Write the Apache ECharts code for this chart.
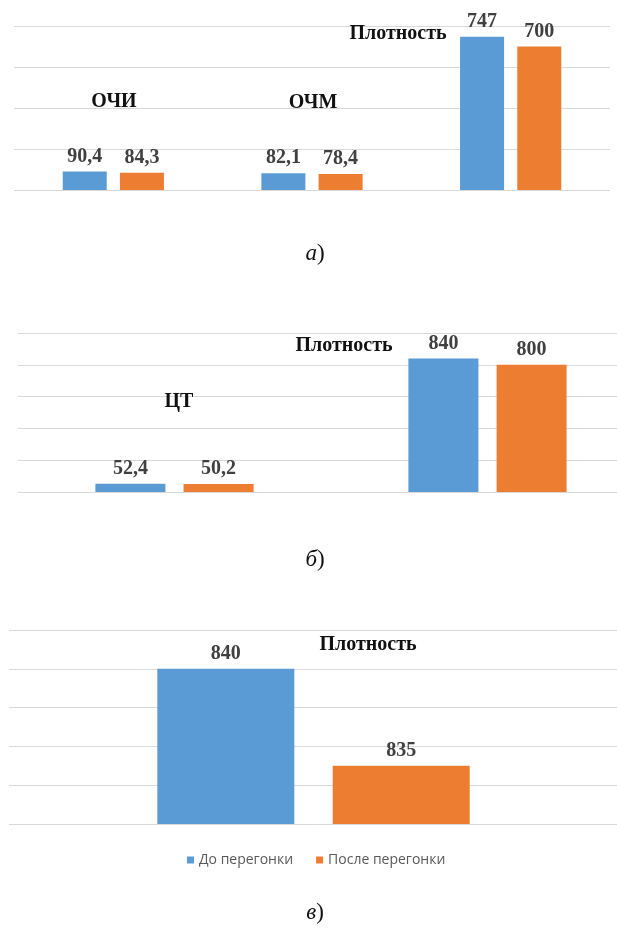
<!DOCTYPE html>
<html>
<head>
<meta charset="utf-8">
<script src="https://cdn.jsdelivr.net/npm/echarts@6/dist/echarts.min.js"></script>
<style>
  html, body { margin: 0; padding: 0; background: #fff; overflow: hidden; }
  #main { width: 660px; height: 937px; }
</style>
</head>
<body>
<div id="main"></div>
<script>
var chartDom = document.getElementById('main');
var myChart = echarts.init(chartDom);
var option;

// series names (legend)
let seriesNames = ['До перегонки', 'После перегонки'];

// panel a
let catsA = ['ОЧИ', 'ОЧМ', 'Плотность'];
let beforeA = [90.4, 82.1, 747];
let afterA = [84.3, 78.4, 700];

// panel b
let catsB = ['ЦТ', 'Плотность'];
let beforeB = [52.4, 840];
let afterB = [50.2, 800];

// panel c
let catsC = ['Плотность'];
let beforeC = [840];
let afterC = [835];

let captions = ['а', 'б', 'в'];

const blue = '#5B9BD5';
const orange = '#ED7D31';
const gridColor = '#d9d9d9';
const serif = '"Liberation Serif", "Times New Roman", serif';

function fmt(p) {
  return String(p.value).replace('.', ',');
}

let valueLabel = {
  show: true,
  position: 'top',
  distance: 5,
  formatter: fmt,
  fontFamily: serif,
  fontWeight: 'bold',
  fontSize: 20,
  color: '#404040'
};

function xAx(idx, cats) {
  return {
    type: 'category',
    gridIndex: idx,
    data: cats,
    axisLine: { show: false },
    axisTick: { show: false },
    axisLabel: { show: false }
  };
}

function yAx(idx, min, max, interval) {
  return {
    type: 'value',
    gridIndex: idx,
    min: min,
    max: max,
    interval: interval,
    axisLine: { show: false },
    axisTick: { show: false },
    axisLabel: { show: false },
    splitLine: { lineStyle: { color: gridColor, width: 1 } }
  };
}

function bar(idx, name, data, color, width, gap) {
  return {
    type: 'bar',
    name: name,
    xAxisIndex: idx,
    yAxisIndex: idx,
    data: data,
    barWidth: width,
    barGap: gap,
    itemStyle: { color: color },
    label: valueLabel,
    silent: true
  };
}

function annot(text, x, y) {
  return {
    type: 'text',
    x: x,
    y: y,
    z: 100,
    style: {
      text: text,
      fontFamily: serif,
      fontWeight: 'bold',
      fontSize: 20,
      fill: '#111',
      align: 'center',
      verticalAlign: 'middle'
    }
  };
}

function caption(letter, x, y) {
  return {
    type: 'text',
    x: x,
    y: y,
    z: 100,
    style: {
      text: '{i|' + letter + '})',
      rich: { i: { fontStyle: 'italic', fontFamily: serif, fontSize: 23, fill: '#111' } },
      fontFamily: serif,
      fontSize: 23,
      fill: '#111',
      align: 'center',
      verticalAlign: 'middle'
    }
  };
}

option = {
  animation: false,
  grid: [
    { left: 14, width: 596, top: 26, height: 164 },
    { left: 18, width: 626, top: 333, height: 159 },
    { left: 9, width: 609, top: 630, height: 194 }
  ],
  xAxis: [xAx(0, catsA), xAx(1, catsB), xAx(2, catsC)],
  yAxis: [yAx(0, 0, 800, 200), yAx(1, 0, 1000, 200), yAx(2, 832, 842, 2)],
  legend: {
    data: seriesNames,
    top: 848,
    left: 182,
    icon: 'rect',
    itemWidth: 7,
    itemHeight: 7,
    itemGap: 23,
    textStyle: { color: '#595959', fontSize: 14, fontFamily: '"Open Sans", "Noto Sans", sans-serif' }
  },
  series: [
    bar(0, seriesNames[0], beforeA, blue, 44, '30%'),
    bar(0, seriesNames[1], afterA, orange, 44, '30%'),
    bar(1, seriesNames[0], beforeB, blue, 70, '26%'),
    bar(1, seriesNames[1], afterB, orange, 70, '26%'),
    bar(2, seriesNames[0], beforeC, blue, 137, '28%'),
    bar(2, seriesNames[1], afterC, orange, 137, '28%')
  ],
  graphic: [
    annot(catsA[0], 114, 102),
    annot(catsA[1], 313, 103),
    annot(catsA[2], 398, 34),
    annot(catsB[0], 179, 402),
    annot(catsB[1], 344, 346),
    annot(catsC[0], 368, 645),
    caption(captions[0], 315, 254),
    caption(captions[1], 315, 560),
    caption(captions[2], 315, 913)
  ]
};

option && myChart.setOption(option);
</script>
</body>
</html>
